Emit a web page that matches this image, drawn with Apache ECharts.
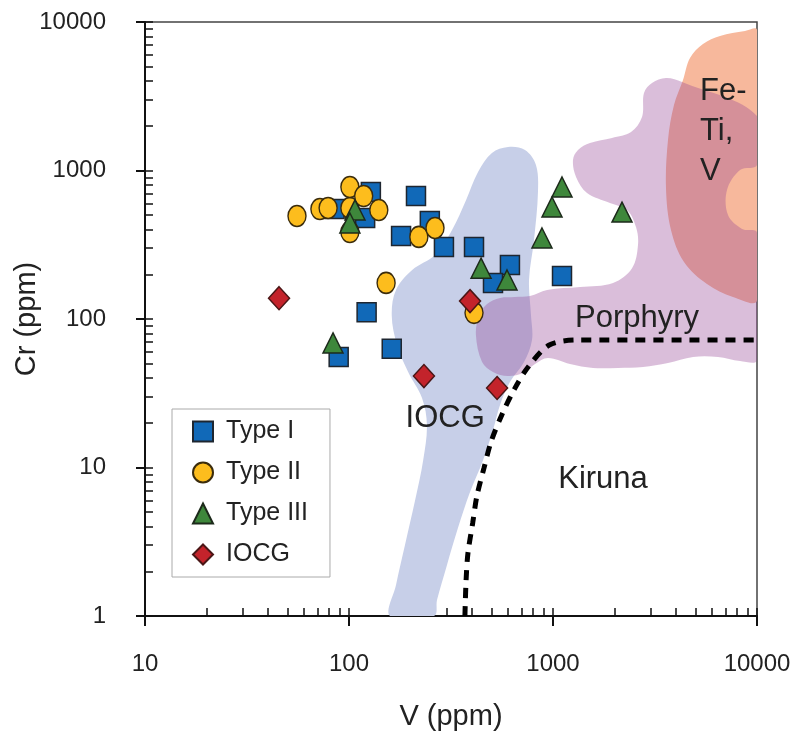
<!DOCTYPE html>
<html>
<head>
<meta charset="utf-8">
<script src="https://cdn.jsdelivr.net/npm/echarts@6/dist/echarts.min.js"></script>
<style>
html, body { margin: 0; padding: 0; background: #fff; }
#chart { width: 797px; height: 738px; }
</style>
</head>
<body>
<div id="chart"></div>
<script>
var FONT = 'Liberation Sans, Arial, sans-serif';

// samples, [V ppm, Cr ppm]
var typeI = [
    [128, 716], [213, 673], [249, 457], [180, 362], [292, 305], [410, 305],
    [615, 231], [508, 175], [1107, 195], [122, 111], [89, 55.5], [162, 63],
    [85, 550], [120, 479]
];
var typeII = [
    [55.6, 494], [72, 550], [79, 559], [101, 559], [101, 385], [101, 774],
    [118, 673], [140, 542], [220, 357], [264, 410], [152, 175], [410, 110]
];
var typeIII = [
    [107, 542], [101, 443], [1107, 774], [989, 568], [883, 351], [2179, 525],
    [444, 220], [595, 183], [83.5, 69]
];
var iocg = [[45.4, 138], [392, 132], [233, 41.3], [532, 34.3]];

// field outlines, [V, Cr]
var iocgField = [
    [159, 1], [170, 1.62], [188, 3.0], [211, 6.04], [231, 11.2], [241, 19.3],
    [228, 29.4], [195, 44], [172, 66.8], [162, 106], [170, 157], [204, 214],
    [264, 270], [320, 398], [375, 633], [429, 977], [502, 1312], [602, 1439],
    [729, 1374], [825, 1089], [844, 716], [807, 340], [763, 183], [780, 106],
    [789, 72.2], [721, 51.3], [615, 37.6], [550, 26.4], [508, 17.9], [454, 11.2],
    [392, 6.84], [342, 3.91], [302, 2.2], [270, 1.28], [261, 1]
];
var porphyryField = [
    [419, 78], [434, 105], [475, 126], [550, 138.5], [651, 140.7], [771, 142.8],
    [935, 157], [1357, 164], [1969, 175], [2440, 220], [2610, 315], [2552, 416],
    [2305, 542], [1902, 604], [1468, 705], [1297, 904], [1253, 1177], [1326, 1374],
    [1518, 1531], [1946, 1655], [2413, 1816], [2731, 2293], [2793, 3325],
    [3057, 3884], [3580, 4197], [4290, 3945], [10000, 2328], [10000, 1089],
    [8255, 1008], [7127, 739], [7208, 501], [8443, 404], [10000, 380],
    [10000, 52.9], [8255, 52.1], [6441, 55.5], [4857, 55.5], [3662, 50.5],
    [2762, 47.5], [2083, 46.8], [1571, 46.8], [1211, 49.8], [945, 54.6],
    [816, 49.8], [713, 43.3], [602, 41.3], [508, 44], [449, 51.3]
];
var feTiField = [
    [4338, 4068], [4695, 5722], [5436, 7110], [6587, 8048], [8734, 8699],
    [10000, 8834], [10000, 134], [7627, 140.7], [5686, 172], [4387, 242],
    [3788, 397], [3580, 762], [3662, 1605], [3918, 2761]
];
var kirunaLine = [
    [370, 1], [375, 1.75], [383, 2.66], [404, 4.23], [423, 6.36], [459, 9.93],
    [497, 14.9], [561, 22.6], [646, 33.6], [757, 47.7], [959, 66.8],
    [1306, 72.2], [10000, 72.2]
];

var fieldLabels = [
    [296, 21.5, 'IOCG'],
    [1759, 8.37, 'Kiruna'],
    [2581, 101.5, 'Porphyry'],
    [5255, 1845, 'Fe-\nTi,\nV']
];

var xMinorTicks = [10, 20, 30, 40, 50, 60, 70, 80, 90,
    100, 200, 300, 400, 500, 600, 700, 800, 900,
    1000, 2000, 3000, 4000, 5000, 6000, 7000, 8000, 9000, 10000];
var yMinorTicks = [1, 2, 3, 4, 5, 6, 7, 8, 9].concat(xMinorTicks);

function fieldSeries(name, pts, fill, z) {
    return {
        name: name,
        type: 'custom',
        silent: true,
        clip: true,
        z: z,
        data: pts,
        renderItem: function (params, api) {
            if (params.dataIndex !== 0) return;
            var poly = pts.map(function (p) { return api.coord(p); });
            return {
                type: 'polygon',
                shape: { points: poly, smooth: 0.35 },
                style: { fill: fill }
            };
        }
    };
}

function markerSeries(name, data, symbol, size, color, border) {
    return {
        name: name,
        type: 'scatter',
        data: data,
        symbol: symbol,
        symbolSize: size,
        z: 10,
        itemStyle: { color: color, borderColor: border, borderWidth: 1.5, opacity: 1 }
    };
}

var labelData = fieldLabels.map(function (d) {
    var item = { value: [d[0], d[1]], name: d[2] };
    if (d[2].indexOf('\n') >= 0) {
        item.label = { align: 'left', lineHeight: 40 };
    }
    return item;
});

var chart = echarts.init(document.getElementById('chart'));

var option = {
    animation: false,
    backgroundColor: '#fff',
    grid: {
        left: 145, right: 40, top: 22, bottom: 122,
        outerBoundsMode: 'none',
        containLabel: false,
        show: true, borderColor: '#444', borderWidth: 1.5, backgroundColor: 'transparent'
    },
    legend: {
        orient: 'vertical',
        left: 172, top: 409,
        padding: [10, 22, 10, 20],
        itemGap: 16,
        itemWidth: 20, itemHeight: 20,
        backgroundColor: '#fff',
        borderColor: '#aaa', borderWidth: 1,
        textStyle: { fontFamily: FONT, fontSize: 25, color: '#222', lineHeight: 22, padding: [0, 0, 0, 8] },
        data: ['Type I', 'Type II', 'Type III', 'IOCG']
    },
    xAxis: [{
        type: 'log', logBase: 10, min: 10, max: 10000, position: 'bottom',
        name: 'V (ppm)', nameLocation: 'middle', nameGap: 86, nameMoveOverlap: false,
        nameTextStyle: { fontFamily: FONT, fontSize: 29, color: '#222' },
        axisLine: { lineStyle: { color: '#111', width: 2 } },
        axisTick: { show: true, inside: false, length: 10, lineStyle: { color: '#111', width: 2 } },
        axisLabel: {
            fontFamily: FONT, fontSize: 24, color: '#222', margin: 36,
            formatter: function (v) { return String(v); }
        },
        splitLine: { show: false }
    }, {
        type: 'log', logBase: 10, min: 10, max: 10000, position: 'bottom',
        axisLine: { show: false },
        axisLabel: { show: false },
        axisTick: { show: true, inside: true, length: 8, customValues: xMinorTicks, lineStyle: { color: '#111', width: 1.5 } },
        splitLine: { show: false }
    }],
    yAxis: [{
        type: 'log', logBase: 10, min: 1, max: 10000, position: 'left',
        name: 'Cr (ppm)', nameLocation: 'middle', nameGap: 104, nameMoveOverlap: false,
        nameTextStyle: { fontFamily: FONT, fontSize: 29, color: '#222' },
        axisLine: { lineStyle: { color: '#111', width: 2 } },
        axisTick: { show: true, inside: false, length: 9, lineStyle: { color: '#111', width: 2 } },
        axisLabel: {
            fontFamily: FONT, fontSize: 24, color: '#222', margin: 39,
            formatter: function (v) { return String(v); }
        },
        splitLine: { show: false }
    }, {
        type: 'log', logBase: 10, min: 1, max: 10000, position: 'left',
        axisLine: { show: false },
        axisLabel: { show: false },
        axisTick: { show: true, inside: true, length: 8, customValues: yMinorTicks, lineStyle: { color: '#111', width: 1.5 } },
        splitLine: { show: false }
    }],
    series: [
        fieldSeries('iocgField', iocgField, 'rgb(199,207,232)', 1),
        fieldSeries('feTiField', feTiField, 'rgb(247,184,156)', 1),
        fieldSeries('porphyryField', porphyryField, 'rgba(149,69,149,0.35)', 2),
        {
            name: 'kiruna',
            type: 'line',
            data: kirunaLine,
            symbol: 'none',
            smooth: 0.3,
            silent: true,
            z: 4,
            lineStyle: { color: '#000', width: 5, type: [10, 8], cap: 'butt' }
        },
        {
            name: 'labels',
            type: 'scatter',
            data: labelData,
            symbolSize: 0,
            silent: true,
            z: 5,
            itemStyle: { opacity: 1 },
            label: {
                show: true, position: 'inside',
                fontFamily: FONT, fontSize: 31, color: '#222',
                formatter: function (p) { return p.name; }
            }
        },
        markerSeries('Type I', typeI, 'rect', 19, '#1169b8', '#1e2630'),
        markerSeries('Type II', typeII, 'circle', [18, 21], '#fdbd1d', '#3b2c0c'),
        markerSeries('Type III', typeIII, 'triangle', [20, 20], '#3e873b', '#1d2a1b'),
        markerSeries('IOCG', iocg, 'diamond', [21, 23], '#c3232b', '#4a1616')
    ]
};

chart.setOption(option);
</script>
</body>
</html>
